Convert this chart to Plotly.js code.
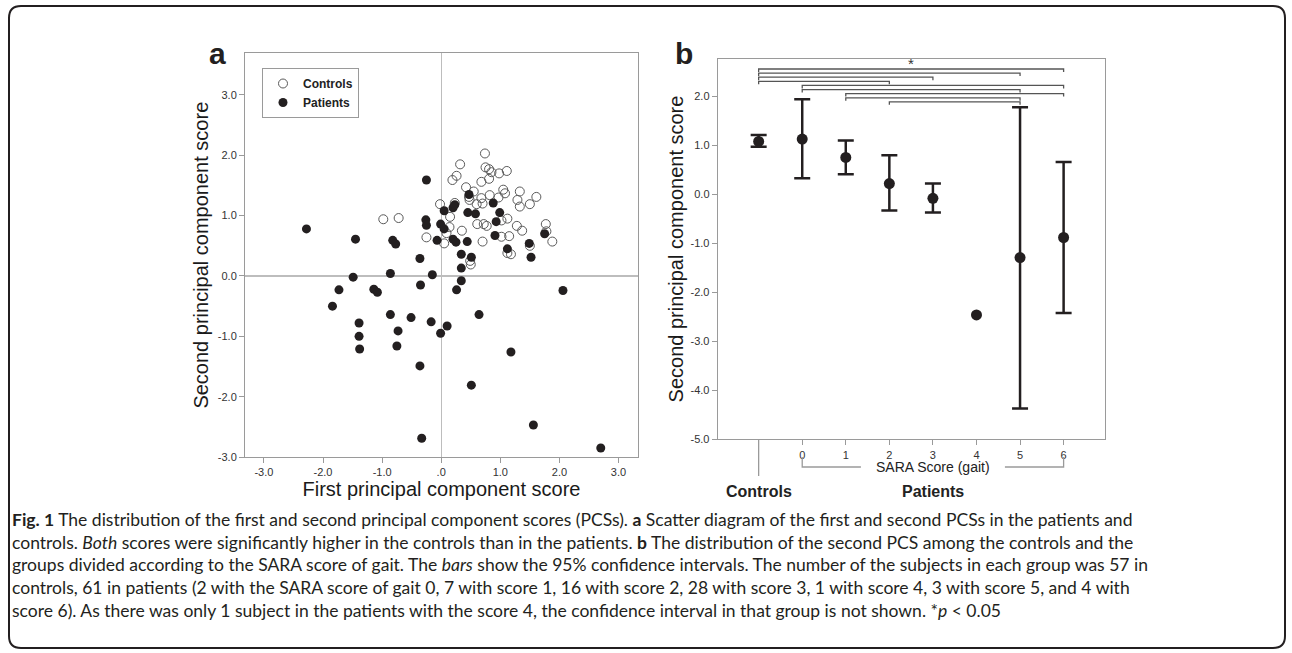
<!DOCTYPE html>
<html><head><meta charset="utf-8">
<script src="https://cdn.plot.ly/plotly-3.0.1.min.js"></script>
<style>html,body{margin:0;padding:0;background:#fff;}#chart{width:1292px;height:653px;}</style>
</head><body><div id="chart"></div>
<script>
// ---------- Panel a: first vs second principal component scores ----------
const controlsX = [0.74,0.32,0.75,0.81,1.11,0.98,0.85,0.26,0.19,0.81,0.68,0.42,0.55,0.47,1.05,1.08,1.33,0.68,0.82,1.61,1.29,1.50,1.33,0.70,-0.02,0.23,0.48,0.15,1.12,0.61,0.72,0.77,1.02,1.28,1.37,1.77,1.78,1.88,0.14,0.09,0.35,-0.25,0.05,0.70,1.02,1.15,1.12,1.18,1.50,0.50,0.49,-0.98,-0.72,0.60,0.97];
const controlsY = [2.03,1.85,1.80,1.77,1.74,1.70,1.72,1.66,1.59,1.61,1.56,1.47,1.40,1.31,1.43,1.37,1.40,1.29,1.34,1.31,1.26,1.19,1.15,1.20,1.19,1.21,1.26,0.98,0.95,0.86,0.86,0.83,0.92,0.83,0.75,0.86,0.74,0.57,0.81,0.71,0.75,0.64,0.54,0.57,0.65,0.66,0.38,0.36,0.50,0.19,0.25,0.94,0.96,1.19,1.30];
const patientsX = [-2.28,-1.45,-0.82,-0.77,-0.25,0.47,0.88,0.20,0.23,0.05,0.45,0.58,0.99,0.93,-0.26,-0.25,-0.01,0.05,-0.07,0.20,0.25,0.44,0.91,0.34,0.51,0.34,0.34,0.26,-0.15,-0.36,-0.35,-0.86,-1.49,-1.73,-1.14,-1.08,-1.84,-0.86,-0.51,-1.39,-1.39,-1.38,-0.73,-0.75,-0.17,0.10,-0.01,0.64,-0.36,1.18,0.51,-0.33,1.56,2.70,2.06,1.52,1.49,1.75,1.12];
const patientsY = [0.78,0.61,0.59,0.53,1.59,1.35,1.21,1.13,1.18,1.08,1.05,1.03,1.05,0.90,0.93,0.84,0.86,0.78,0.59,0.61,0.56,0.57,0.67,0.36,0.31,0.13,-0.08,-0.23,0.02,0.29,-0.15,0.04,-0.02,-0.23,-0.22,-0.27,-0.50,-0.64,-0.69,-0.78,-1.00,-1.21,-0.91,-1.16,-0.76,-0.83,-0.95,-0.64,-1.49,-1.26,-1.81,-2.69,-2.47,-2.85,-0.24,0.31,0.54,0.70,0.45];
const axisTicksA = [-3,-2,-1,0,1,2,3];
const xTickTextA = ['-3.0','-2.0','-1.0','.0','1.0','2.0','3.0'];
const yTickTextA = ['-3.0','-2.0','-1.0','0.0','1.0','2.0','3.0'];

// ---------- Panel b: second PCS by group ----------
const groups = ['Controls', 0, 1, 2, 3, 4, 5, 6];
const groupMean = [1.08, 1.13, 0.755, 0.22, -0.08, -2.46, -1.29, -0.88];
const ciUpper  = [1.21, 1.94, 1.10, 0.80, 0.22, null, 1.78, 0.66];
const ciLower  = [0.97, 0.33, 0.41, -0.33, -0.37, null, -4.37, -2.42];
const sigPairs = [['Controls',6],['Controls',5],['Controls',3],['Controls',2],[0,6],[0,5],[1,6],[1,5],[2,5]];
const yTicksB = [-5,-4,-3,-2,-1,0,1,2];
const yTickTextB = ['-5.0','-4.0','-3.0','-2.0','-1.0','0.0','1.0','2.0'];
const saraTicks = [0,1,2,3,4,5,6];

const captionLines = [
  '<b>Fig. 1</b> The distribution of the first and second principal component scores (PCSs). <b>a</b> Scatter diagram of the first and second PCSs in the patients and',
  'controls. <i>Both</i> scores were significantly higher in the controls than in the patients. <b>b</b> The distribution of the second PCS among the controls and the',
  'groups divided according to the SARA score of gait. The <i>bars</i> show the 95% confidence intervals. The number of the subjects in each group was 57 in',
  'controls, 61 in patients (2 with the SARA score of gait 0, 7 with score 1, 16 with score 2, 28 with score 3, 1 with score 4, 3 with score 5, and 4 with',
  'score 6). As there was only 1 subject in the patients with the score 4, the confidence interval in that group is not shown. *<i>p</i> &lt; 0.05'
];

// ---------- helpers ----------
const W = 1292, H = 653;
const fx = p => p / W;
const fy = p => 1 - p / H;
const pos = g => (g === 'Controls' ? -1 : g);
const ARIAL = 'Liberation Sans, Arial, sans-serif';
const INK = '#231f20';
const FRAME = '#9a9a9a';

function fitFont(html, family, targetWidth, base) {
  const txt = html.replace(/<[^>]+>/g, '').replace(/&lt;/g, '<');
  const c = document.createElement('canvas').getContext('2d');
  c.font = base + 'px ' + family;
  return base * targetWidth / c.measureText(txt).width;
}

// axis ranges (pixel-calibrated)
const xRangeB = [-1.94, 6.95];
const pxPerUnitB = (1105 - 717.7) / (xRangeB[1] - xRangeB[0]);

const traces = [
  { x: controlsX, y: controlsY, type: 'scatter', mode: 'markers', name: 'Controls',
    xaxis: 'x', yaxis: 'y',
    marker: { symbol: 'circle-open', size: 9, color: '#5a5a5a', line: { width: 1, color: '#5a5a5a' } } },
  { x: patientsX, y: patientsY, type: 'scatter', mode: 'markers', name: 'Patients',
    xaxis: 'x', yaxis: 'y',
    marker: { symbol: 'circle', size: 9, color: INK, line: { width: 0 } } },
  { x: groups.map(pos), y: groupMean, type: 'scatter', mode: 'markers', showlegend: false,
    xaxis: 'x2', yaxis: 'y2',
    marker: { size: 11, color: INK },
    error_y: { type: 'data', symmetric: false,
      array: groupMean.map((m, i) => ciUpper[i] == null ? NaN : ciUpper[i] - m),
      arrayminus: groupMean.map((m, i) => ciLower[i] == null ? NaN : m - ciLower[i]),
      color: INK, thickness: 2.5, width: 8 } }
];

const shapes = [];
const annotations = [];

// significance brackets
const topLevel = 2.56, step = 0.084, hook = 0.06;
sigPairs.forEach((p, i) => {
  const a = pos(p[0]), b = pos(p[1]);
  const yl = topLevel - i * step;
  shapes.push({ type: 'path', xref: 'x2', yref: 'y2',
    path: `M ${a},${yl - hook} L ${a},${yl} L ${b},${yl} L ${b},${yl - hook}`,
    line: { color: '#555', width: 1.3 } });
});
annotations.push({ xref: 'x2', yref: 'y2', x: 2.5, y: 2.68, text: '*', showarrow: false,
  font: { family: ARIAL, size: 15, color: '#333' } });

// controls long tick under panel b
shapes.push({ type: 'line', xref: 'x2', yref: 'paper', x0: -1, x1: -1, y0: fy(439.3), y1: fy(476),
  line: { color: FRAME, width: 1.3 } });
// SARA Score bracket
const saraMid = (saraTicks[0] + saraTicks[saraTicks.length - 1]) / 2;
const halfGap = 72 / pxPerUnitB;
shapes.push({ type: 'path', xref: 'x2', yref: 'paper',
  path: `M ${saraTicks[0]},${fy(457)} L ${saraTicks[0]},${fy(467)} L ${saraMid - halfGap},${fy(467)}`,
  line: { color: FRAME, width: 1.3 } });
shapes.push({ type: 'path', xref: 'x2', yref: 'paper',
  path: `M ${saraMid + halfGap},${fy(467)} L ${saraTicks[saraTicks.length - 1]},${fy(467)} L ${saraTicks[saraTicks.length - 1]},${fy(457)}`,
  line: { color: FRAME, width: 1.3 } });
annotations.push({ xref: 'x2', yref: 'paper', x: saraMid, y: fy(467), yanchor: 'middle', text: 'SARA Score (gait)',
  showarrow: false, font: { family: ARIAL, size: 14, color: '#222' } });
annotations.push({ xref: 'x2', yref: 'paper', x: -1, y: fy(491), yanchor: 'middle', text: '<b>Controls</b>',
  showarrow: false, font: { family: ARIAL, size: 16, color: '#222' } });
annotations.push({ xref: 'x2', yref: 'paper', x: saraMid, y: fy(491), yanchor: 'middle', text: '<b>Patients</b>',
  showarrow: false, font: { family: ARIAL, size: 16, color: '#222' } });

// panel letters
annotations.push({ xref: 'paper', yref: 'paper', x: fx(207), y: fy(35), text: '<b>a</b>', showarrow: false,
  font: { family: ARIAL, size: 30, color: INK } });
annotations.push({ xref: 'paper', yref: 'paper', x: fx(684), y: fy(35), text: '<b>b</b>', showarrow: false,
  font: { family: ARIAL, size: 30, color: INK } });

// caption
const capFamily = 'Lato, Open Sans, sans-serif';
const capSize = fitFont(captionLines[0], capFamily, 1123, 16);
const capY = [519, 542, 564, 587, 610];
captionLines.forEach((t, i) => {
  annotations.push({ xref: 'paper', yref: 'paper', x: fx(10), y: fy(capY[i]), xanchor: 'left', yanchor: 'middle',
    align: 'left', text: t, showarrow: false, font: { family: capFamily, size: capSize, color: '#231f20' } });
});

// outer rounded frame
const bx0 = 9, by0 = 6, bx1 = 1285, by1 = 648, r = 12;
const P = (x, y) => `${fx(x)},${fy(y)}`;
shapes.push({ type: 'path', xref: 'paper', yref: 'paper',
  path: `M ${P(bx0 + r, by0)} L ${P(bx1 - r, by0)} Q ${P(bx1, by0)} ${P(bx1, by0 + r)} L ${P(bx1, by1 - r)} Q ${P(bx1, by1)} ${P(bx1 - r, by1)} L ${P(bx0 + r, by1)} Q ${P(bx0, by1)} ${P(bx0, by1 - r)} L ${P(bx0, by0 + r)} Q ${P(bx0, by0)} ${P(bx0 + r, by0)} Z`,
  line: { color: INK, width: 2 } });

const tickFont = { family: ARIAL, size: 11, color: '#333' };
const titleFont = { family: ARIAL, size: 20, color: '#1a1a1a' };
const baseAxis = { showline: true, linecolor: FRAME, linewidth: 1, mirror: true, showgrid: false,
  ticks: 'outside', ticklen: 5, tickcolor: FRAME, tickfont: tickFont, fixedrange: true };

const layout = {
  width: W, height: H, margin: { l: 0, r: 0, t: 0, b: 0 }, paper_bgcolor: '#fff', plot_bgcolor: '#fff',
  showlegend: true,
  legend: { x: fx(262), y: fy(68), xanchor: 'left', yanchor: 'top', bgcolor: '#fff', bordercolor: FRAME, borderwidth: 1,
    font: { family: ARIAL, size: 12, color: '#222', weight: 'bold' }, tracegroupgap: 0, itemwidth: 30 },
  xaxis: Object.assign({}, baseAxis, { domain: [fx(245), fx(638)], range: [-3.32, 3.33], anchor: 'y',
    tickmode: 'array', tickvals: axisTicksA, ticktext: xTickTextA,
    zeroline: true, zerolinecolor: '#bdbdbd', zerolinewidth: 1.2,
    title: { text: 'First principal component score', font: titleFont, standoff: 4 } }),
  yaxis: Object.assign({}, baseAxis, { domain: [fy(457), fy(53.3)], range: [-3.0, 3.69], anchor: 'x',
    tickmode: 'array', tickvals: axisTicksA, ticktext: yTickTextA,
    zeroline: true, zerolinecolor: '#bdbdbd', zerolinewidth: 1.2,
    title: { text: 'Second principal component score', font: titleFont, standoff: 3 } }),
  xaxis2: Object.assign({}, baseAxis, { domain: [fx(717.7), fx(1105)], range: xRangeB, anchor: 'y2',
    tickmode: 'array', tickvals: saraTicks, ticktext: saraTicks.map(String), zeroline: false }),
  yaxis2: Object.assign({}, baseAxis, { domain: [fy(439.3), fy(58.7)], range: [-5.0, 2.77], anchor: 'x2',
    tickmode: 'array', tickvals: yTicksB, ticktext: yTickTextB, zeroline: false,
    title: { text: 'Second principal component score', font: titleFont, standoff: 1 } }),
  shapes: shapes,
  annotations: annotations
};

Plotly.newPlot('chart', traces, layout, { displayModeBar: false, staticPlot: true });
</script>
</body></html>
